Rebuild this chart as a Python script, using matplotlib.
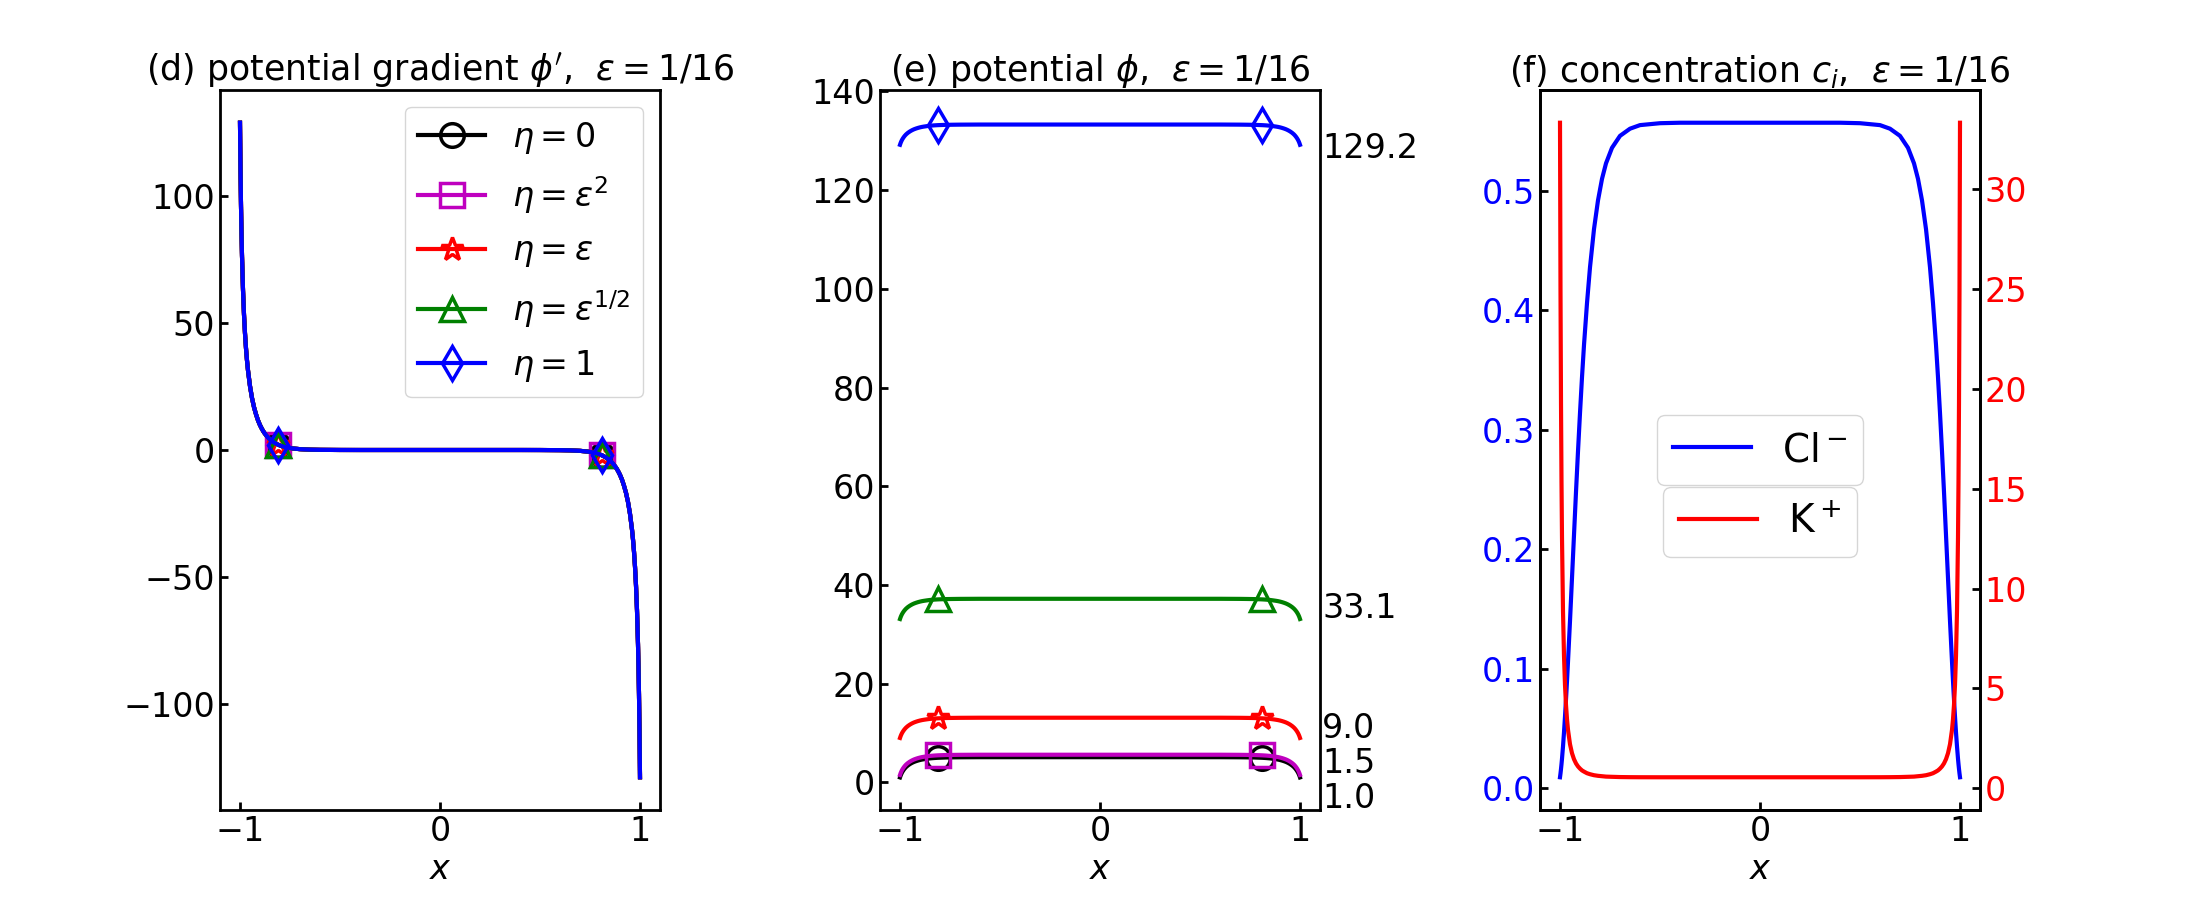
import matplotlib
matplotlib.use("Agg")
import matplotlib.pyplot as plt
import matplotlib.transforms as mtransforms

# grid shared by all curves (denser near the walls)
x = [-1, -0.9975, -0.995, -0.9925, -0.99, -0.985, -0.98, -0.975, -0.97, -0.965, -0.96, -0.95,
     -0.94, -0.93, -0.92, -0.91, -0.9, -0.89, -0.88, -0.865, -0.85, -0.83, -0.81, -0.79, -0.77,
     -0.74, -0.7, -0.65, -0.6, -0.5, -0.4,
     0,
     0.4, 0.5, 0.6, 0.65, 0.7, 0.74, 0.77, 0.79, 0.81, 0.83, 0.85, 0.865, 0.88, 0.89, 0.9,
     0.91, 0.92, 0.93, 0.94, 0.95, 0.96, 0.965, 0.97, 0.975, 0.98, 0.985, 0.99, 0.9925, 0.995,
     0.9975, 1]
mark_idx = [22, 40]  # markers sit at x = -0.81 and 0.81

# (d) potential gradient, the five eta curves lie on top of each other
dphi = [129.1, 110.6, 96.5, 85.5, 76.6, 63.2, 53.4, 46.0, 40.1, 35.3, 31.4, 25.2, 20.5, 16.9,
        14.1, 11.7, 9.8, 8.25, 6.94, 5.36, 4.15, 2.95, 2.1, 1.5, 1.07, 0.64, 0.33, 0.14, 0.06,
        0.01, 0.0,
        0.0,
        0.0, -0.01, -0.06, -0.14, -0.33, -0.64, -1.07, -1.5, -2.1, -2.95, -4.15, -5.36, -6.94,
        -8.25, -9.8, -11.7, -14.1, -16.9, -20.5, -25.2, -31.4, -35.3, -40.1, -46.0, -53.4,
        -63.2, -76.6, -85.5, -96.5, -110.6, -129.1]

# (e) potential for each eta
phi_eta0 = [1.0, 1.30, 1.56, 1.78, 1.99, 2.33, 2.62, 2.87, 3.09, 3.27, 3.44, 3.72, 3.95, 4.14,
            4.29, 4.42, 4.53, 4.62, 4.69, 4.78, 4.86, 4.93, 4.98, 5.01, 5.04, 5.06, 5.08, 5.09,
            5.1, 5.1, 5.1,
            5.1,
            5.1, 5.1, 5.1, 5.09, 5.08, 5.06, 5.04, 5.01, 4.98, 4.93, 4.86, 4.78, 4.69, 4.62,
            4.53, 4.42, 4.29, 4.14, 3.95, 3.72, 3.44, 3.27, 3.09, 2.87, 2.62, 2.33, 1.99, 1.78,
            1.56, 1.30, 1.0]
phi_eps2 = [1.5, 1.80, 2.06, 2.28, 2.49, 2.83, 3.12, 3.37, 3.59, 3.77, 3.94, 4.22, 4.45, 4.64,
            4.79, 4.92, 5.03, 5.12, 5.19, 5.28, 5.36, 5.43, 5.48, 5.51, 5.54, 5.56, 5.58, 5.59,
            5.6, 5.6, 5.6,
            5.6,
            5.6, 5.6, 5.6, 5.59, 5.58, 5.56, 5.54, 5.51, 5.48, 5.43, 5.36, 5.28, 5.19, 5.12,
            5.03, 4.92, 4.79, 4.64, 4.45, 4.22, 3.94, 3.77, 3.59, 3.37, 3.12, 2.83, 2.49, 2.28,
            2.06, 1.80, 1.5]
phi_eps = [9.0, 9.30, 9.56, 9.78, 9.99, 10.33, 10.62, 10.87, 11.09, 11.27, 11.44, 11.72, 11.95,
           12.14, 12.29, 12.42, 12.53, 12.62, 12.69, 12.78, 12.86, 12.93, 12.98, 13.01, 13.04,
           13.06, 13.08, 13.09, 13.1, 13.1, 13.1,
           13.1,
           13.1, 13.1, 13.1, 13.09, 13.08, 13.06, 13.04, 13.01, 12.98, 12.93, 12.86, 12.78,
           12.69, 12.62, 12.53, 12.42, 12.29, 12.14, 11.95, 11.72, 11.44, 11.27, 11.09, 10.87,
           10.62, 10.33, 9.99, 9.78, 9.56, 9.30, 9.0]
phi_sqrt = [33.1, 33.40, 33.66, 33.88, 34.09, 34.43, 34.72, 34.97, 35.19, 35.37, 35.54, 35.82,
            36.05, 36.24, 36.39, 36.52, 36.63, 36.72, 36.79, 36.88, 36.96, 37.03, 37.08, 37.11,
            37.14, 37.16, 37.18, 37.19, 37.2, 37.2, 37.2,
            37.2,
            37.2, 37.2, 37.2, 37.19, 37.18, 37.16, 37.14, 37.11, 37.08, 37.03, 36.96, 36.88,
            36.79, 36.72, 36.63, 36.52, 36.39, 36.24, 36.05, 35.82, 35.54, 35.37, 35.19, 34.97,
            34.72, 34.43, 34.09, 33.88, 33.66, 33.40, 33.1]
phi_one = [129.2, 129.50, 129.76, 129.98, 130.19, 130.53, 130.82, 131.07, 131.29, 131.47,
           131.64, 131.92, 132.15, 132.34, 132.49, 132.62, 132.73, 132.82, 132.89, 132.98,
           133.06, 133.13, 133.18, 133.21, 133.24, 133.26, 133.28, 133.29, 133.3, 133.3, 133.3,
           133.3,
           133.3, 133.3, 133.3, 133.29, 133.28, 133.26, 133.24, 133.21, 133.18, 133.13, 133.06,
           132.98, 132.89, 132.82, 132.73, 132.62, 132.49, 132.34, 132.15, 131.92, 131.64,
           131.47, 131.29, 131.07, 130.82, 130.53, 130.19, 129.98, 129.76, 129.50, 129.2]
wall_labels = ['129.2', '33.1', '9.0', '1.5', '1.0']
wall_label_y = [128.5, 35.2, 11.0, 3.9, -3.2]

# (f) concentrations
c_cl = [0.0092, 0.0124, 0.0161, 0.0202, 0.0247, 0.0350, 0.0468, 0.0600, 0.0743, 0.0897, 0.106,
        0.140, 0.176, 0.212, 0.248, 0.282, 0.314, 0.344, 0.371, 0.406, 0.436, 0.468, 0.492,
        0.510, 0.523, 0.536, 0.546, 0.552, 0.555, 0.5566, 0.557,
        0.557,
        0.557, 0.5566, 0.555, 0.552, 0.546, 0.536, 0.523, 0.510, 0.492, 0.468, 0.436, 0.406,
        0.371, 0.344, 0.314, 0.282, 0.248, 0.212, 0.176, 0.140, 0.106, 0.0897, 0.0743, 0.0600,
        0.0468, 0.0350, 0.0247, 0.0202, 0.0161, 0.0124, 0.0092]
c_k = [33.3, 24.9, 19.3, 15.35, 12.54, 8.86, 6.63, 5.17, 4.18, 3.46, 2.93, 2.21, 1.76, 1.46,
       1.25, 1.10, 0.99, 0.90, 0.84, 0.76, 0.71, 0.66, 0.63, 0.61, 0.59, 0.58, 0.568, 0.562,
       0.559, 0.557, 0.557,
       0.557,
       0.557, 0.557, 0.559, 0.562, 0.568, 0.58, 0.59, 0.61, 0.63, 0.66, 0.71, 0.76, 0.84, 0.90,
       0.99, 1.10, 1.25, 1.46, 1.76, 2.21, 2.93, 3.46, 4.18, 5.17, 6.63, 8.86, 12.54, 15.35,
       19.3, 24.9, 33.3]

eta_labels = [r'$\eta=0$', r'$\eta=\varepsilon^2$', r'$\eta=\varepsilon$',
              r'$\eta=\varepsilon^{1/2}$', r'$\eta=1$']
colors = ['k', 'm', 'r', 'g', 'b']
markers = ['o', 's', '*', '^', 'd']

plt.rcParams.update({
    'font.size': 24,
    'axes.titlesize': 25,
    'axes.linewidth': 2,
    'xtick.direction': 'in',
    'ytick.direction': 'in',
    'xtick.major.width': 2,
    'ytick.major.width': 2,
    'xtick.major.size': 6,
    'ytick.major.size': 6,
    'lines.linewidth': 3,
    'lines.markersize': 17,
    'lines.markeredgewidth': 2.5,
    'mathtext.fontset': 'dejavusans',
})


def main():
    fig, (ax1, ax2, ax3) = plt.subplots(1, 3, figsize=(22, 9))
    fig.subplots_adjust(left=0.1, right=0.9, bottom=0.1, top=0.9, wspace=0.5)

    # (d)
    for lab, col, mk in zip(eta_labels, colors, markers):
        ax1.plot(x, dphi, color=col, marker=mk, mfc='none', markevery=mark_idx, label=lab)
    ax1.legend(loc='upper right', labelspacing=0.55)
    ax1.set_title(r"(d) potential gradient $\phi'$,  $\varepsilon=1/16$")
    ax1.set_xticks([-1, 0, 1])
    ax1.set_xlabel('$x$')

    # (e)
    phis = [phi_eta0, phi_eps2, phi_eps, phi_sqrt, phi_one]
    for ph, col, mk in zip(phis, colors, markers):
        ax2.plot(x, ph, color=col, marker=mk, mfc='none', markevery=mark_idx)
    ax2.set_ylim(-5.6, 140.3)
    trans = mtransforms.blended_transform_factory(ax2.transAxes, ax2.transData)
    for lab, yy in zip(wall_labels, wall_label_y):
        ax2.text(1.005, yy, lab, transform=trans, va='center', ha='left')
    ax2.set_title(r"(e) potential $\phi$,  $\varepsilon=1/16$")
    ax2.set_xticks([-1, 0, 1])
    ax2.set_xlabel('$x$')

    # (f)
    ax3.plot(x, c_cl, color='b', label=r'Cl$^-$')
    ax3.tick_params(axis='y', labelcolor='b')
    ax3.legend(loc='center', fontsize=28)
    ax3b = ax3.twinx()
    ax3b.plot(x, c_k, color='r', label=r'K$^+$')
    ax3b.tick_params(axis='y', labelcolor='r')
    ax3b.legend(loc='center', bbox_to_anchor=(0.5, 0.4), fontsize=28)
    ax3.set_title(r"(f) concentration $c_i$,  $\varepsilon=1/16$")
    ax3.set_xticks([-1, 0, 1])
    ax3.set_xlabel('$x$')

    fig.savefig('out.png', dpi=100)


if __name__ == '__main__':
    main()
